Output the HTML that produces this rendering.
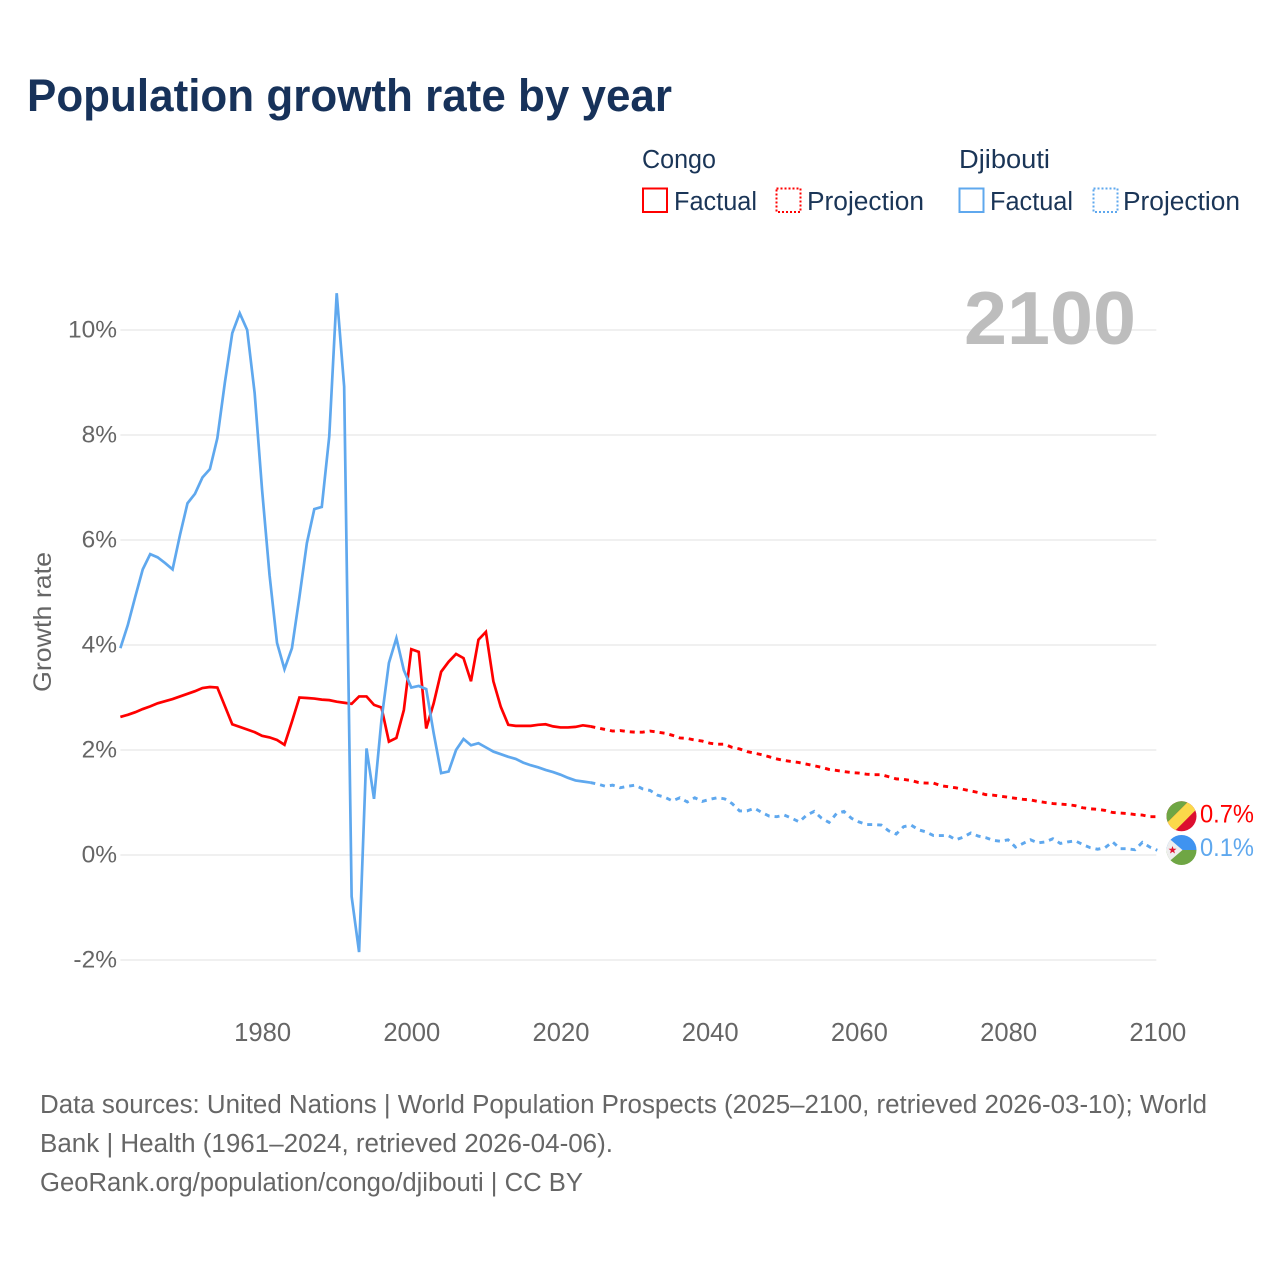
<!DOCTYPE html>
<html lang="en">
<head>
<meta charset="utf-8">
<title>Population growth rate by year</title>
<style>
html,body{margin:0;padding:0;background:#fff;}
svg{display:block;}
text{font-family:"Liberation Sans",sans-serif;}
</style>
</head>
<body>
<svg id="chart" xmlns="http://www.w3.org/2000/svg" width="1280" height="1280" viewBox="0 0 1280 1280">
  <defs>
    <clipPath id="flag-clip"><circle cx="0" cy="0" r="15"/></clipPath>
  </defs>
  <rect x="0" y="0" width="1280" height="1280" fill="#ffffff"/>

  <text x="27" y="111" font-size="45" font-weight="700" fill="#17325a" textLength="645" lengthAdjust="spacingAndGlyphs">Population growth rate by year</text>

  <g>
    <text x="642" y="168" font-size="25.5" fill="#1a3557" textLength="74" lengthAdjust="spacingAndGlyphs">Congo</text>
    <text x="959" y="168" font-size="25.5" fill="#1a3557" textLength="91" lengthAdjust="spacingAndGlyphs">Djibouti</text>

    <rect x="643" y="188.5" width="24" height="23.5" fill="none" stroke="#ff0000" stroke-width="2"/>
    <text x="674" y="210" font-size="25.5" fill="#1a3557" textLength="83" lengthAdjust="spacingAndGlyphs">Factual</text>
    <rect x="776.5" y="188.5" width="24" height="23.5" fill="none" stroke="#ff0000" stroke-width="2" stroke-dasharray="2 2"/>
    <text x="807" y="210" font-size="25.5" fill="#1a3557" textLength="117" lengthAdjust="spacingAndGlyphs">Projection</text>

    <rect x="959.5" y="188.5" width="24" height="23.5" fill="none" stroke="#5fa8ee" stroke-width="2"/>
    <text x="990" y="210" font-size="25.5" fill="#1a3557" textLength="83" lengthAdjust="spacingAndGlyphs">Factual</text>
    <rect x="1093.5" y="188.5" width="24" height="23.5" fill="none" stroke="#5fa8ee" stroke-width="2" stroke-dasharray="2 2"/>
    <text x="1123" y="210" font-size="25.5" fill="#1a3557" textLength="117" lengthAdjust="spacingAndGlyphs">Projection</text>
  </g>

  <g id="grid"></g>
  <text x="964" y="344" font-size="75" font-weight="700" fill="#bdbdbd" textLength="172" lengthAdjust="spacingAndGlyphs">2100</text>
  <g id="y-ticks"></g>
  <g id="x-ticks"></g>
  <text transform="translate(51,622) rotate(-90)" text-anchor="middle" font-size="25" fill="#666666" textLength="140" lengthAdjust="spacingAndGlyphs">Growth rate</text>
  <g id="series"></g>

  <g transform="translate(1181.5,816.3)">
    <g clip-path="url(#flag-clip)">
      <rect x="-16" y="-16" width="32" height="32" fill="#dc0f2f"/>
      <polygon points="-16,-16 8,-16 -16,8" fill="#6fa644"/>
      <polygon points="8,-16 16,-16 16,-8 -8,16 -16,16 -16,8" fill="#fbd94a"/>
    </g>
  </g>
  <g transform="translate(1181.5,850)">
    <g clip-path="url(#flag-clip)">
      <rect x="-16" y="-16" width="32" height="16" fill="#3f93f0"/>
      <rect x="-16" y="0" width="32" height="16" fill="#6fa644"/>
      <polygon points="-20,-18 1,0 -20,18" fill="#eeeeee"/>
      <polygon points="-9,-4 -8,-1.2 -5,-1.2 -7.4,0.6 -6.5,3.5 -9,1.7 -11.5,3.5 -10.6,0.6 -13,-1.2 -10,-1.2" fill="#e0142f"/>
    </g>
  </g>
  <text x="1200" y="822.5" font-size="25" fill="#ff0000" textLength="54" lengthAdjust="spacingAndGlyphs">0.7%</text>
  <text x="1200" y="856" font-size="25" fill="#5fa8ee" textLength="54" lengthAdjust="spacingAndGlyphs">0.1%</text>

  <g>
    <text x="40" y="1113" font-size="25.5" fill="#666666" textLength="1167" lengthAdjust="spacingAndGlyphs">Data sources: United Nations | World Population Prospects (2025–2100, retrieved 2026-03-10); World</text>
    <text x="40" y="1152" font-size="25.5" fill="#666666" textLength="573" lengthAdjust="spacingAndGlyphs">Bank | Health (1961–2024, retrieved 2026-04-06).</text>
    <text x="40" y="1191" font-size="25.5" fill="#666666" textLength="543" lengthAdjust="spacingAndGlyphs">GeoRank.org/population/congo/djibouti | CC BY</text>
  </g>
</svg>
<script>
const factualStartYear = 1961;
const projectionStartYear = 2024;
const xTickYears = [1980, 2000, 2020, 2040, 2060, 2080, 2100];
const yTickValues = [-2, 0, 2, 4, 6, 8, 10];
const yTickLabels = ['-2%', '0%', '2%', '4%', '6%', '8%', '10%'];

const congoFactual = [2.63,2.67,2.72,2.78,2.83,2.89,2.93,2.97,3.02,3.07,3.12,3.18,3.20,3.19,2.84,2.49,2.44,2.39,2.34,2.27,2.24,2.19,2.10,2.54,3.00,2.99,2.98,2.96,2.95,2.92,2.90,2.88,3.02,3.02,2.86,2.81,2.16,2.23,2.76,3.92,3.87,2.41,2.89,3.49,3.68,3.83,3.75,3.31,4.10,4.25,3.31,2.82,2.48,2.46,2.46,2.46,2.48,2.49,2.45,2.43,2.43,2.44,2.47,2.45];

const djiboutiFactual = [3.94,4.38,4.92,5.44,5.73,5.67,5.56,5.44,6.10,6.70,6.88,7.19,7.35,7.94,8.99,9.94,10.32,10.00,8.80,6.95,5.33,4.04,3.54,3.94,4.91,5.94,6.59,6.63,7.97,10.70,8.92,-0.79,-1.85,2.03,1.07,2.57,3.66,4.13,3.52,3.19,3.22,3.16,2.32,1.56,1.59,2.00,2.21,2.09,2.13,2.05,1.97,1.92,1.87,1.83,1.76,1.71,1.67,1.62,1.58,1.53,1.47,1.42,1.40,1.38];

const congoProjection = [2.45,2.42,2.39,2.36,2.37,2.35,2.34,2.34,2.36,2.34,2.32,2.28,2.23,2.22,2.19,2.17,2.13,2.11,2.11,2.05,2.02,1.97,1.94,1.91,1.87,1.83,1.80,1.78,1.76,1.73,1.70,1.67,1.63,1.61,1.59,1.57,1.56,1.54,1.53,1.53,1.49,1.45,1.44,1.42,1.38,1.37,1.37,1.32,1.30,1.28,1.25,1.22,1.19,1.15,1.14,1.12,1.10,1.08,1.06,1.05,1.02,1.00,0.98,0.97,0.96,0.94,0.90,0.88,0.87,0.85,0.81,0.80,0.79,0.77,0.76,0.73,0.73];

const djiboutiProjection = [1.38,1.35,1.31,1.33,1.28,1.31,1.33,1.26,1.23,1.14,1.10,1.03,1.09,1.01,1.09,1.02,1.06,1.09,1.07,0.98,0.84,0.84,0.89,0.81,0.74,0.73,0.76,0.70,0.63,0.76,0.83,0.70,0.62,0.79,0.83,0.70,0.63,0.58,0.58,0.57,0.46,0.40,0.54,0.57,0.48,0.44,0.37,0.37,0.37,0.29,0.34,0.42,0.36,0.33,0.28,0.26,0.29,0.15,0.22,0.29,0.23,0.25,0.31,0.22,0.25,0.27,0.20,0.14,0.11,0.14,0.25,0.12,0.12,0.10,0.24,0.15,0.09];

const SVG_NS = 'http://www.w3.org/2000/svg';
function xScale(year) { return 336.7 + (year - 1990) * 7.46; }
function yScale(value) { return 855 - value * 52.5; }
function pathPoints(values, startYear) {
  return values.map(function (v, i) {
    return xScale(startYear + i).toFixed(2) + ',' + yScale(v).toFixed(2);
  }).join(' ');
}

const gridGroup = document.getElementById('grid');
const yTickGroup = document.getElementById('y-ticks');
const xTickGroup = document.getElementById('x-ticks');
const seriesGroup = document.getElementById('series');

yTickValues.forEach(function (v, i) {
  const line = document.createElementNS(SVG_NS, 'line');
  
  
  line.setAttribute('x1', xScale(1961));
  line.setAttribute('x2', xScale(2100) - 1);
  line.setAttribute('y1', yScale(v));
  line.setAttribute('y2', yScale(v));
  line.setAttribute('stroke', '#f0f0f0');
  line.setAttribute('stroke-width', '2');
  gridGroup.appendChild(line);

  const label = document.createElementNS(SVG_NS, 'text');
  
  
  label.setAttribute('x', '117');
  label.setAttribute('y', yScale(v) + 7.5);
  label.setAttribute('text-anchor', 'end');
  label.setAttribute('font-size', '24.5');
  label.setAttribute('fill', '#666666');
  label.textContent = yTickLabels[i];
  yTickGroup.appendChild(label);
});

xTickYears.forEach(function (year) {
  const label = document.createElementNS(SVG_NS, 'text');
  
  
  label.setAttribute('x', xScale(year) + 0.5);
  label.setAttribute('y', '1041');
  label.setAttribute('text-anchor', 'middle');
  label.setAttribute('font-size', '25.6');
  label.setAttribute('fill', '#666666');
  label.textContent = String(year);
  xTickGroup.appendChild(label);
});

function drawFactual(values, color, name) {
  const line = document.createElementNS(SVG_NS, 'polyline');
  
  
  line.setAttribute('points', pathPoints(values, factualStartYear));
  line.setAttribute('fill', 'none');
  line.setAttribute('stroke', color);
  line.setAttribute('stroke-width', '2.7');
  line.setAttribute('stroke-linejoin', 'miter');
  seriesGroup.appendChild(line);
}
function drawProjection(values, color, name) {
  const line = document.createElementNS(SVG_NS, 'polyline');
  
  
  line.setAttribute('points', pathPoints(values, projectionStartYear));
  line.setAttribute('fill', 'none');
  line.setAttribute('stroke', color);
  line.setAttribute('stroke-width', '2.9');
  line.setAttribute('stroke-dasharray', '5 5');
  seriesGroup.appendChild(line);
}
drawFactual(congoFactual, '#ff0000', 'congo-factual-line');
drawProjection(congoProjection, '#ff0000', 'congo-projection-line');
drawFactual(djiboutiFactual, '#5fa8ee', 'djibouti-factual-line');
drawProjection(djiboutiProjection, '#5fa8ee', 'djibouti-projection-line');
</script>
</body>
</html>
